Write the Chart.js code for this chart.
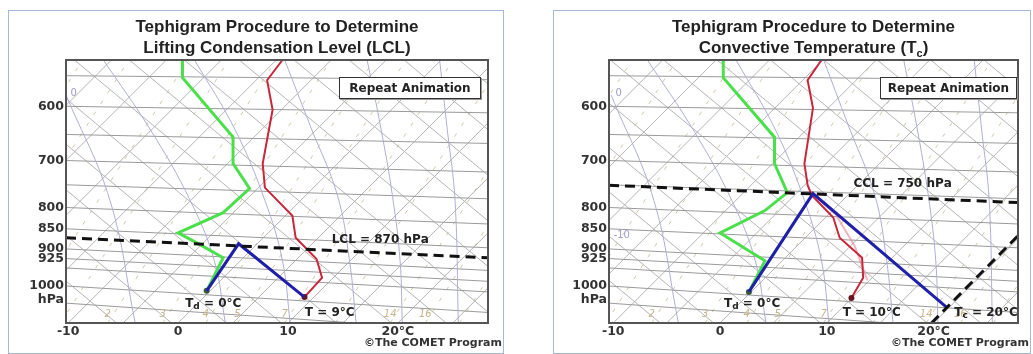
<!DOCTYPE html>
<html>
<head>
<meta charset="utf-8">
<script src="https://cdn.jsdelivr.net/npm/chart.js@4.4.1/dist/chart.umd.min.js"></script>
<style>
body { margin: 0; background: #fff; width: 1033px; height: 354px; overflow: hidden; position: relative; }
.panel { position: absolute; top: 10px; height: 344px; border: 1px solid #a9b7d6; box-sizing: border-box; background: #fff; }
#p1 { left: 8px; width: 496px; }
#p2 { left: 553px; width: 478px; }
.panel canvas { position: absolute; left: 0; top: 0; }
.title { position: absolute; top: 5px; text-align: center; font: bold 17px "Liberation Sans", Arial, sans-serif; line-height: 21px; color: #222; }
.btn { position: absolute; top: 66px; height: 20px; border: 1px solid #333; box-shadow: 1px 1px 0 #999; background: #fff;
       font: bold 12px "DejaVu Sans", sans-serif; line-height: 20px; text-align: center; color: #222; }
.credit { position: absolute; top: 325px; right: 1px; font: bold 11px "DejaVu Sans", sans-serif; color: #333; }
</style>
</head>
<body>
<div class="panel" id="p1">
  <canvas id="lcl" width="494" height="342"></canvas>
  <div class="title" style="left:57px;width:422px">Tephigram Procedure to Determine<br>Lifting Condensation Level (LCL)</div>
  <div class="btn" style="left:330px;width:140px">Repeat Animation</div>
  <div class="credit">©The COMET Program</div>
</div>
<div class="panel" id="p2">
  <canvas id="ccl" width="476" height="342"></canvas>
  <div class="title" style="left:55px;width:409px">Tephigram Procedure to Determine<br>Convective Temperature (T<sub style="font-size:11px">c</sub>)</div>
  <div class="btn" style="left:326px;width:135px">Repeat Animation</div>
  <div class="credit">©The COMET Program</div>
</div>
<script>
// x = position along the bottom temperature axis, p = pressure (hPa)
const xTicks = [-10, 0, 10, 20];
const xTickLabels = ['-10', '0', '10', '20°C'];
const pTicks = [600, 700, 800, 850, 900, 925, 1000, 1041];
const pTickLabels = ['600', '700', '800', '850', '900', '925', '1000', 'hPa'];

// background diagram lines (where each crosses the bottom axis)
const isobars = [550, 600, 650, 700, 750, 800, 850, 900, 925, 950, 1000, 1050];
const isotherms = [-30, -25, -20, -15, -10, -5, 0, 5, 10, 15, 20, 25];
const dryAdiabats = [-5.6, -0.6, 4.4, 9.4, 14.4, 19.4, 24.4, 29.4, 34.4, 39.4, 44.4, 49.4, 54.4, 59.4];
const mixingRatios = [-24, -19.8, -14.4, -10.7, -6.4, -1.4, 2.5, 5.4, 9.7, 14.3, 19.3, 22.5, 25.6];
const mixingLabels = ['2', '3', '4', '5', '7', '14', '16'];
const mixingLabelX = [-6.4, -1.4, 2.5, 5.4, 9.7, 19.3, 22.5];
const satAdiabatX = [
    [-10.2, -6.2, -3.9],
    [-6.8, -2.5, 1.1, 3.3, 4.3],
    [1.5, 5.2, 7.9, 9.5, 10.2],
    [9.7, 12.0, 14.5, 15.6, 16.2],
    [17.2, 18.4, 19.5, 20.2, 20.4],
    [23.8, 24.5, 25.2, 25.5]
];
const satAdiabatP = [
    [581, 784, 1111],
    [526, 642, 784, 931, 1111],
    [526, 642, 784, 931, 1111],
    [526, 633, 773, 931, 1111],
    [526, 633, 773, 931, 1111],
    [526, 642, 784, 1111]
];

// left chart: lifting condensation level
const lclDewX = [0.4, 0.4, 5.0, 5.0, 6.5, 4.1, 0.0, 2.0, 4.1, 2.6];
const lclDewP = [526, 553, 655, 706, 758, 812, 860, 889, 923, 1014];
const lclTempX = [9.5, 8.1, 8.6, 7.7, 7.9, 10.4, 10.7, 12.6, 13.1, 11.5];
const lclTempP = [526, 557, 606, 706, 756, 819, 872, 926, 977, 1032];
const lclParcelX = [2.6, 5.5, 11.5];
const lclParcelP = [1014, 887, 1032];
const lclLevelX = [-10.2, 28.2];
const lclLevelP = [872, 923];
const lclTexts = ['LCL = 870 hPa', 'T_d = 0°C', 'T = 9°C'];
const lclTextX = [18.4, 3.2, 13.8];
const lclTextP = [877, 1053, 1080];

// right chart: convective condensation level / convective temperature
const cclDewX = [0.3, 0.3, 5.1, 5.1, 6.3, 4.2, 0.0, 4.2, 2.7];
const cclDewP = [526, 553, 655, 706, 767, 807, 860, 931, 1017];
const cclTempX = [9.5, 8.2, 8.7, 7.9, 8.2, 8.6, 10.6, 11.2, 13.3, 13.4, 12.3];
const cclTempP = [526, 557, 603, 706, 751, 773, 823, 872, 923, 977, 1035];
const cclMoistX = [8.6, 10.8, 12.6, 13.8];
const cclMoistP = [769, 815, 892, 984];
const cclParcelX = [2.7, 8.7, 21.2];
const cclParcelP = [1017, 769, 1062];
const cclLevelX = [-10.4, 27.9];
const cclLevelP = [751, 789];
const tcIsoX = [19.8, 27.9];
const tcIsoP = [1111, 867];
const cclTexts = ['CCL = 750 hPa', 'T_d = 0°C', 'T = 10°C', 'T_c = 20°C'];
const cclTextX = [17.1, 3.0, 14.2, 24.9];
const cclTextP = [747, 1053, 1080, 1080];

const isoLabels = ['0', '-10'];
const isoLabelX = [-9.5, -9.2];
const isoLabelP = [578, 867];

const pts = (xs, ps) => xs.map((v, i) => ({ x: v, y: ps[i] }));

function line(ctx, x0, y0, x1, y1) {
    ctx.beginPath(); ctx.moveTo(x0, y0); ctx.lineTo(x1, y1); ctx.stroke();
}

// text with "_c" style subscripts
function subText(ctx, str, cx, cy, size) {
    const parts = [];
    for (let i = 0; i < str.length; i++) {
        if (str[i] === '_') { parts.push([str[i + 1], true]); i++; }
        else parts.push([str[i], false]);
    }
    const big = 'bold ' + size + 'px "DejaVu Sans"', small = 'bold ' + (size - 3) + 'px "DejaVu Sans"';
    let w = 0;
    parts.forEach(p => { ctx.font = p[1] ? small : big; w += ctx.measureText(p[0]).width; });
    let x = cx - w / 2;
    ctx.textAlign = 'left'; ctx.textBaseline = 'middle';
    parts.forEach(p => {
        ctx.font = p[1] ? small : big;
        ctx.fillText(p[0], x, cy + (p[1] ? 3 : 0));
        x += ctx.measureText(p[0]).width;
    });
}

function tephiPlugin(texts, textX, textP, nIso) {
    return {
        id: 'tephi',
        beforeDatasetsDraw(chart) {
            const { ctx, chartArea: a, scales: { x, y } } = chart;
            const h = a.bottom - a.top;
            ctx.save();
            ctx.beginPath(); ctx.rect(a.left, a.top, a.right - a.left, h); ctx.clip();
            ctx.lineWidth = 1;
            ctx.strokeStyle = '#d2c7ab'; ctx.setLineDash([4, 9]);
            mixingRatios.forEach(v => { const x0 = x.getPixelForValue(v); line(ctx, x0, a.bottom, x0 + h * 0.64, a.top); });
            ctx.setLineDash([]);
            ctx.strokeStyle = '#b4b4b4';
            isotherms.forEach(v => { const x0 = x.getPixelForValue(v); line(ctx, x0, a.bottom, x0 + h, a.top); });
            dryAdiabats.forEach(v => { const x0 = x.getPixelForValue(v); line(ctx, x0, a.bottom, x0 - h / 0.83, a.top); });
            ctx.strokeStyle = '#9a9a9a';
            isobars.forEach(p => {
                const y0 = y.getPixelForValue(p);
                line(ctx, a.left, y0, a.right, y0 + 4 + 16 * (p - 550) / 320);
            });
            ctx.restore();
        },
        afterDatasetsDraw(chart) {
            const { ctx, chartArea: a, scales: { x, y } } = chart;
            ctx.save();
            ctx.strokeStyle = '#555'; ctx.lineWidth = 2;
            ctx.strokeRect(a.left, a.top, a.right - a.left, a.bottom - a.top);
            ctx.fillStyle = '#c5b48a'; ctx.font = 'italic 10px "DejaVu Sans"';
            ctx.textAlign = 'center'; ctx.textBaseline = 'middle';
            mixingLabels.forEach((t, i) => ctx.fillText(t, x.getPixelForValue(mixingLabelX[i]), y.getPixelForValue(1083)));
            ctx.fillStyle = '#9c9cd0'; ctx.font = '10px "DejaVu Sans"';
            for (let i = 0; i < nIso; i++) ctx.fillText(isoLabels[i], x.getPixelForValue(isoLabelX[i]), y.getPixelForValue(isoLabelP[i]));
            ctx.fillStyle = '#222';
            texts.forEach((t, i) => subText(ctx, t, x.getPixelForValue(textX[i]), y.getPixelForValue(textP[i]), 12));
            ctx.restore();
        }
    };
}

function satSets() {
    return satAdiabatX.map((xs, i) => ({
        data: pts(xs, satAdiabatP[i]), borderColor: '#aeaed6', borderWidth: 1, tension: 0.4, pointRadius: 0
    }));
}

function makeOptions(xMin, xMax, padRight, yWidth) {
    const tickFont = { family: 'DejaVu Sans', weight: 'bold', size: 12.5 };
    return {
        responsive: false,
        animation: false,
        layout: { padding: { top: 49, right: padRight, left: 0, bottom: 0 } },
        plugins: { legend: { display: false }, tooltip: { enabled: false } },
        scales: {
            x: {
                type: 'linear', min: xMin, max: xMax,
                grid: { display: false, drawTicks: false }, border: { display: false },
                afterBuildTicks: s => { s.ticks = xTicks.map(v => ({ value: v })); },
                afterFit: s => { s.height = 30; },
                ticks: { autoSkip: false, maxRotation: 0, padding: 1, color: '#333', font: tickFont,
                         callback: (v, i) => xTickLabels[i] }
            },
            y: {
                type: 'logarithmic', min: 526, max: 1111, reverse: true,
                grid: { display: false, drawTicks: false }, border: { display: false },
                afterBuildTicks: s => { s.ticks = pTicks.map(v => ({ value: v })); },
                afterFit: s => { s.width = yWidth; },
                ticks: { autoSkip: false, padding: 2, color: '#333', font: tickFont,
                         callback: (v, i) => pTickLabels[i] }
            }
        }
    };
}

new Chart(document.getElementById('lcl'), {
    type: 'line',
    data: {
        datasets: [
            { data: pts(lclLevelX, lclLevelP), borderColor: '#111', borderWidth: 3, borderDash: [10, 6], pointRadius: 0 },
            { data: pts(lclParcelX, lclParcelP), borderColor: '#1f1fa8', borderWidth: 3, pointRadius: 0 },
            { data: pts(lclTempX, lclTempP), borderColor: '#c8283c', borderWidth: 2, pointRadius: [0, 0, 0, 0, 0, 0, 0, 0, 0, 3], pointBackgroundColor: '#6a1420', pointBorderWidth: 0 },
            { data: pts(lclDewX, lclDewP), borderColor: '#4be04b', borderWidth: 3, pointRadius: [0, 0, 0, 0, 0, 0, 0, 0, 0, 3], pointBackgroundColor: '#3a5a3a', pointBorderWidth: 0 },
            ...satSets()
        ]
    },
    options: makeOptions(-10.2, 28.2, 15, 57),
    plugins: [tephiPlugin(lclTexts, lclTextX, lclTextP, 1)]
});

new Chart(document.getElementById('ccl'), {
    type: 'line',
    data: {
        datasets: [
            { data: pts(cclLevelX, cclLevelP), borderColor: '#111', borderWidth: 3, borderDash: [10, 6], pointRadius: 0 },
            { data: pts(tcIsoX, tcIsoP), borderColor: '#111', borderWidth: 3, borderDash: [10, 6], pointRadius: 0 },
            { data: pts(cclParcelX, cclParcelP), borderColor: '#1f1fa8', borderWidth: 3, pointRadius: 0 },
            { data: pts(cclTempX, cclTempP), borderColor: '#c8283c', borderWidth: 2, pointRadius: [0, 0, 0, 0, 0, 0, 0, 0, 0, 0, 3], pointBackgroundColor: '#6a1420', pointBorderWidth: 0 },
            { data: pts(cclMoistX, cclMoistP), borderColor: 'rgba(235,130,150,0.6)', borderWidth: 2, pointRadius: 0 },
            { data: pts(cclDewX, cclDewP), borderColor: '#4be04b', borderWidth: 3, pointRadius: [0, 0, 0, 0, 0, 0, 0, 0, 3], pointBackgroundColor: '#3a5a3a', pointBorderWidth: 0 },
            ...satSets()
        ]
    },
    options: makeOptions(-10.4, 27.9, 12, 55),
    plugins: [tephiPlugin(cclTexts, cclTextX, cclTextP, 2)]
});
</script>
</body>
</html>
